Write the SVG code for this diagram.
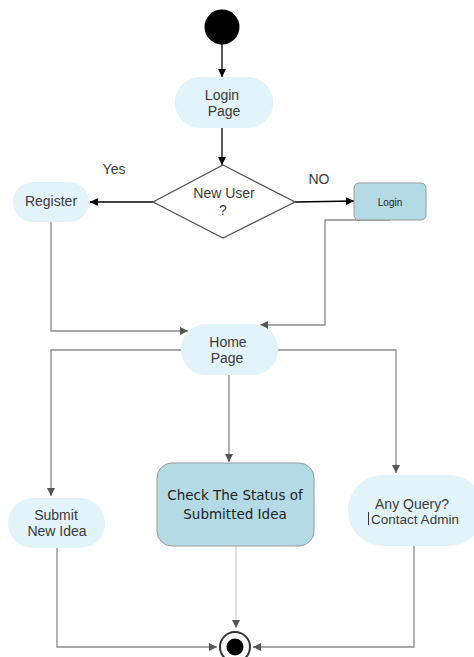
<svg xmlns="http://www.w3.org/2000/svg" width="474" height="657" viewBox="0 0 474 657">
<defs>
<marker id="ab" viewBox="0 0 10 10" refX="10" refY="5" markerWidth="8" markerHeight="8" markerUnits="userSpaceOnUse" orient="auto"><path d="M0,0 L10,5 L0,10 z" fill="#000"/></marker>
<marker id="ag" viewBox="0 0 10 10" refX="10" refY="5" markerWidth="8" markerHeight="8" markerUnits="userSpaceOnUse" orient="auto"><path d="M0,0 L10,5 L0,10 z" fill="#555"/></marker>
<style>
.t{font-family:"Liberation Sans",Arial,sans-serif;font-size:14px;fill:#3a3a3a;text-anchor:middle}
.soft{fill:#e2f3fa;stroke:none}
.blue{fill:#b4dbe5;stroke:#999;stroke-width:1}
.cb{fill:none;stroke:#000;stroke-width:1.3}
.cg{fill:none;stroke:#8a8a8a;stroke-width:1.3}
</style>
</defs>
<rect width="474" height="657" fill="#fff"/>
<g id="connectors">
<path class="cb" d="M222,44 V77" marker-end="url(#ab)"/>
<path class="cb" d="M222,128 V165" marker-end="url(#ab)"/>
<path class="cb" d="M153,202 H90" marker-end="url(#ab)"/>
<path class="cb" d="M295,202 L354,201" marker-end="url(#ab)"/>
<path class="cg" d="M51,222 V331 H188" marker-end="url(#ag)"/>
<path class="cg" d="M390,220 H325 V325 H260" marker-end="url(#ag)"/>
<path class="cg" d="M181,350 H51 V496" marker-end="url(#ag)"/>
<path class="cg" d="M278,350 H396 V473" marker-end="url(#ag)"/>
<path class="cg" d="M229,375 V462" marker-end="url(#ag)"/>
<path class="cg" d="M57,548 V647 H217" marker-end="url(#ag)"/>
<path fill="none" stroke="#cfcfcf" stroke-width="1.3" d="M236,546 V628" marker-end="url(#ag)"/>
<path class="cg" d="M414,546 V647 H253" marker-end="url(#ag)"/>
</g>
<g id="start"><circle cx="222" cy="27" r="17.5" fill="#000"/></g>
<g id="login-page"><rect class="soft" x="175" y="77" width="98" height="51" rx="25"/><text class="t" x="222" y="100">Login</text><text class="t" x="224" y="116">Page</text></g>
<g id="new-user"><polygon points="223,165 295,202 223,238 153,202" fill="#fff" stroke="#555" stroke-width="1.3"/><text class="t" x="224" y="198" fill="#555">New User</text><text class="t" x="223" y="215">?</text></g>
<g id="yes-label"><text class="t" x="114" y="174">Yes</text></g>
<g id="no-label"><text class="t" x="319" y="184">NO</text></g>
<g id="register"><rect class="soft" x="13" y="182" width="76" height="40" rx="20"/><text class="t" x="51" y="206">Register</text></g>
<g id="login"><rect class="blue" x="354" y="183" width="72" height="37" rx="5"/><text class="t" x="390" y="206" style="font-size:10px;fill:#222">Login</text></g>
<g id="home-page"><rect class="soft" x="181" y="324" width="97" height="51" rx="25"/><text class="t" x="228" y="347">Home</text><text class="t" x="227" y="363">Page</text></g>
<g id="submit-idea"><rect class="soft" x="8" y="498" width="97" height="50" rx="25"/><text class="t" x="56" y="520">Submit</text><text class="t" x="57" y="536">New Idea</text></g>
<g id="check-status"><rect class="blue" x="157" y="463" width="157" height="83" rx="15"/><text class="t" x="235" y="500" style="font-family:'DejaVu Sans',Verdana,sans-serif;font-size:13.5px;fill:#222">Check The Status of</text><text class="t" x="235" y="519" style="font-family:'DejaVu Sans',Verdana,sans-serif;font-size:13.5px;fill:#222">Submitted Idea</text></g>
<g id="any-query"><rect class="soft" x="348" y="475" width="136" height="71" rx="35"/><text class="t" x="412" y="509">Any Query?</text><text class="t" x="415" y="524" style="font-size:13.5px">Contact Admin</text><line x1="368.5" y1="512" x2="368.5" y2="525" stroke="#333" stroke-width="1"/></g>
<g id="end"><circle cx="235" cy="647" r="15" fill="#fff" stroke="#333" stroke-width="2"/><circle cx="235" cy="647" r="8.5" fill="#000"/></g>
</svg>
